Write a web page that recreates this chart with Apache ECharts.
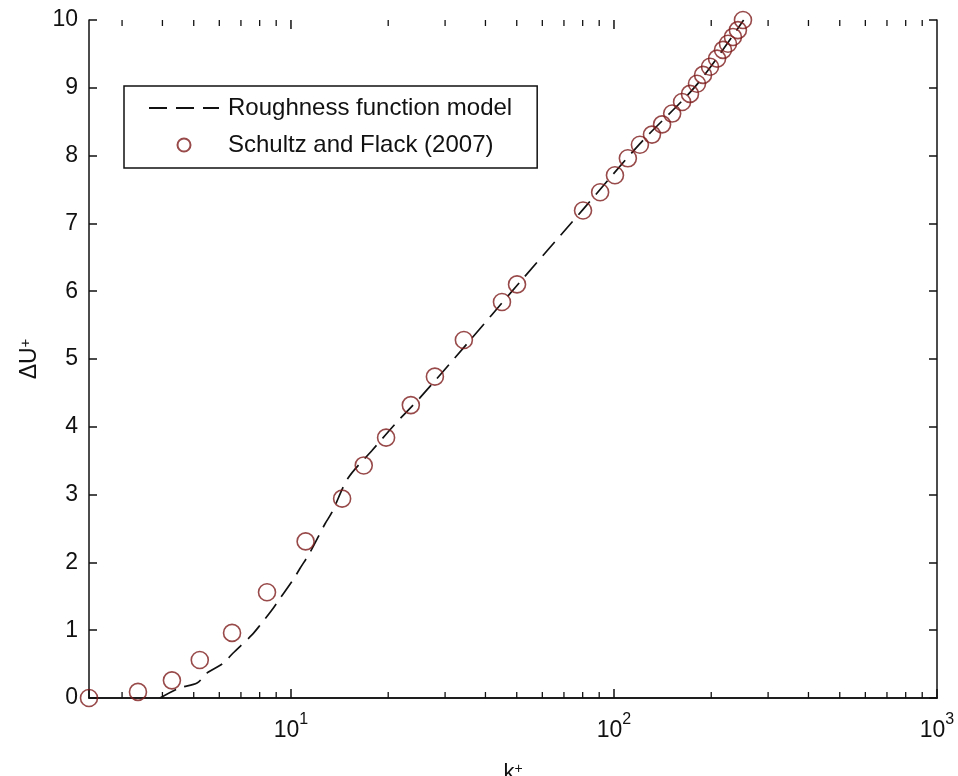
<!DOCTYPE html>
<html>
<head>
<meta charset="utf-8">
<script src="https://cdn.jsdelivr.net/npm/echarts@6/dist/echarts.min.js"></script>
<style>
  html, body { margin: 0; padding: 0; background: #ffffff; overflow: hidden; }
  #chart { width: 958px; height: 776px; }
</style>
</head>
<body>
<div id="chart"></div>
<script>
// Schultz and Flack (2007): roughness Reynolds number k+ and roughness function ΔU+
const measuredK = [2.37, 3.36, 4.28, 5.22, 6.57, 8.43, 11.1, 14.4, 16.8, 19.7, 23.5, 27.9, 34.3, 45.0, 50.1,
  80.2, 90.6, 100.7, 110.4, 120.3, 131.1, 140.9, 151.4, 162.5, 171.9, 180.7, 188.7, 198.3, 208.5,
  217.5, 225.4, 233.5, 241.9, 250.8];
const measuredDU = [0.0, 0.09, 0.26, 0.56, 0.96, 1.56, 2.31, 2.94, 3.43, 3.84, 4.32, 4.74, 5.28, 5.84, 6.10,
  7.19, 7.46, 7.71, 7.96, 8.16, 8.31, 8.46, 8.62, 8.79, 8.91, 9.06, 9.19, 9.31, 9.43,
  9.56, 9.65, 9.75, 9.85, 10.0];

// Roughness function model curve
const modelK = [3.93, 4.53, 5.12, 5.50, 6.16, 6.61, 7.57, 8.01, 8.80, 9.25, 10.14, 10.66, 11.46, 12.75,
  13.40, 15.01, 17.82, 21.0, 25.1, 35.0, 50.0, 80.0, 120.0, 180.0, 252.0];
const modelDU = [0.0, 0.15, 0.22, 0.37, 0.51, 0.66, 0.93, 1.07, 1.32, 1.47, 1.74, 1.91, 2.15, 2.57,
  2.74, 3.24, 3.65, 4.04, 4.43, 5.22, 6.08, 7.20, 8.17, 9.04, 10.0];

// Axis ranges and tick values
const kRange = [2.37, 1000];
const duRange = [0, 10];
const duStep = 1;
const majorKTicks = [10, 100];
const minorKTicks = [3, 4, 5, 6, 7, 8, 9, 20, 30, 40, 50, 60, 70, 80, 90, 200, 300, 400, 500, 600, 700, 800, 900];

const seriesNames = ['Roughness function model', 'Schultz and Flack (2007)'];

const FONT = 'Liberation Sans, Arial, Helvetica, sans-serif';
const INK = '#111111';
const MARKER = '#7e1c1c';

const chart = echarts.init(document.getElementById('chart'), null, { renderer: 'canvas' });

function pairs(xs, ys) {
  return xs.map((x, i) => [x, ys[i]]);
}

function powerLabel(v) {
  const e = Math.log10(v);
  if (Math.abs(e - Math.round(e)) > 1e-6) return '';
  return '{b|10}{s|' + Math.round(e) + '}';
}

const axisLineStyle = { color: INK, width: 1.5 };

// log-axis ticks on the top edge and minor ticks on both edges (inward, box style)
const edgeTicks = majorKTicks.map(v => [v, 0])
  .concat(minorKTicks.map(v => [v, 1]));

const option = {
  backgroundColor: '#ffffff',
  animation: false,
  grid: { left: 89, right: 21, top: 20, bottom: 78, containLabel: false, outerBoundsMode: 'none' },
  legend: {
    data: [
      { name: seriesNames[0], itemStyle: { opacity: 0 } },
      { name: seriesNames[1] }
    ],
    orient: 'vertical',
    left: 124,
    top: 86,
    padding: [9, 25, 10, 24],
    itemGap: 11,
    itemWidth: 70,
    itemHeight: 13,
    borderColor: INK,
    borderWidth: 1.5,
    backgroundColor: '#ffffff',
    selectedMode: false,
    textStyle: { fontFamily: FONT, fontSize: 24, color: INK, lineHeight: 26, padding: [0, 0, 0, 4] }
  },
  xAxis: [
    {
      type: 'log', logBase: 10, min: kRange[0], max: kRange[1], position: 'bottom',
      name: '{k|k}{p|+}', nameLocation: 'middle', nameGap: 64,
      nameTextStyle: {
        rich: {
          k: { fontFamily: FONT, fontSize: 22, color: INK },
          p: { fontFamily: FONT, fontSize: 14, color: INK, verticalAlign: 'top' }
        }
      },
      axisLine: { show: true, lineStyle: axisLineStyle },
      axisTick: { show: true, inside: true, length: 9, lineStyle: axisLineStyle },
      minorTick: { show: false },
      splitLine: { show: false },
      axisLabel: {
        margin: 14,
        formatter: powerLabel,
        rich: {
          b: { fontFamily: FONT, fontSize: 23, color: INK, lineHeight: 30, verticalAlign: 'bottom' },
          s: { fontFamily: FONT, fontSize: 16, color: INK, lineHeight: 30, verticalAlign: 'top' }
        }
      }
    },
    {
      type: 'log', logBase: 10, min: kRange[0], max: kRange[1], position: 'top',
      axisLine: { show: true, lineStyle: axisLineStyle },
      axisTick: { show: false },
      axisLabel: { show: false },
      splitLine: { show: false }
    }
  ],
  yAxis: [
    {
      type: 'value', min: duRange[0], max: duRange[1], interval: duStep, position: 'left',
      name: '{d|ΔU}{p|+}', nameLocation: 'middle', nameRotate: 90, nameGap: 40,
      nameTextStyle: {
        rich: {
          d: { fontFamily: FONT, fontSize: 23, color: INK },
          p: { fontFamily: FONT, fontSize: 15, color: INK, verticalAlign: 'top' }
        }
      },
      axisLine: { show: true, lineStyle: axisLineStyle },
      axisTick: { show: true, inside: true, length: 8, lineStyle: axisLineStyle },
      splitLine: { show: false },
      axisLabel: { margin: 11, fontFamily: FONT, fontSize: 23, color: INK }
    },
    {
      type: 'value', min: duRange[0], max: duRange[1], interval: duStep, position: 'right',
      axisLine: { show: true, lineStyle: axisLineStyle },
      axisTick: { show: true, inside: true, length: 8, lineStyle: axisLineStyle },
      splitLine: { show: false },
      axisLabel: { show: false }
    }
  ],
  series: [
    {
      type: 'custom',
      silent: true,
      xAxisIndex: 0, yAxisIndex: 0,
      data: edgeTicks,
      clip: false,
      renderItem: function (params, api) {
        const v = api.value(0);
        const isMinor = api.value(1) === 1;
        const b = api.coord([v, duRange[0]]);
        const t = api.coord([v, duRange[1]]);
        const len = isMinor ? 6 : 9;
        const style = { stroke: INK, lineWidth: isMinor ? 1.3 : 1.5 };
        const children = [
          { type: 'line', shape: { x1: t[0], y1: t[1], x2: t[0], y2: t[1] + len }, style: style }
        ];
        if (isMinor) {
          children.push({ type: 'line', shape: { x1: b[0], y1: b[1], x2: b[0], y2: b[1] - len }, style: style });
        }
        return { type: 'group', children: children };
      },
      z: 1
    },
    {
      name: seriesNames[0],
      type: 'line',
      xAxisIndex: 0, yAxisIndex: 0,
      data: pairs(modelK, modelDU),
      smooth: 0.3,
      symbol: 'none',
      showSymbol: false,
      lineStyle: { color: INK, width: 1.7, type: [18, 9] },
      itemStyle: { color: INK },
      z: 3
    },
    {
      name: seriesNames[1],
      type: 'scatter',
      xAxisIndex: 0, yAxisIndex: 0,
      data: pairs(measuredK, measuredDU),
      symbol: 'circle',
      symbolSize: 17,
      clip: false,
      itemStyle: { color: 'rgba(0,0,0,0)', borderColor: MARKER, borderWidth: 1.6 },
      z: 4
    }
  ]
};

chart.setOption(option);
</script>
</body>
</html>
